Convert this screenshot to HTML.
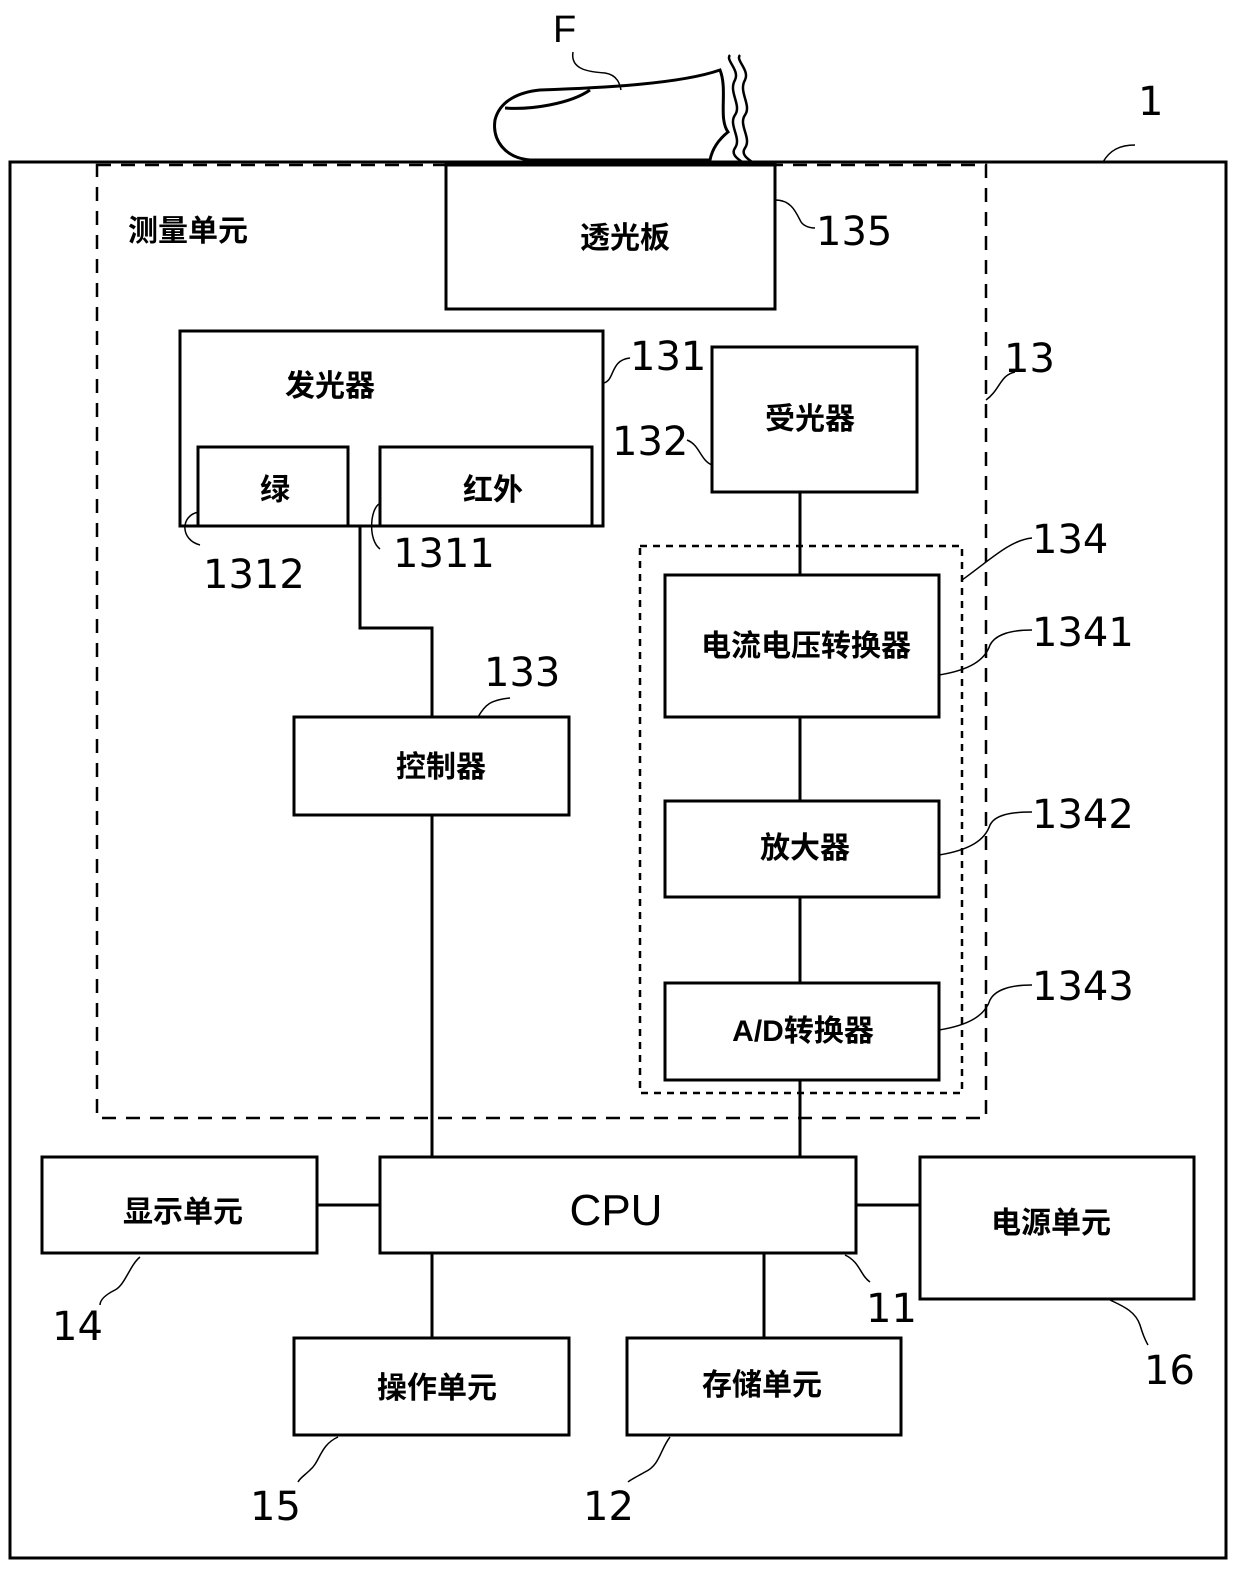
<!DOCTYPE html>
<html><head><meta charset="utf-8"><style>
html,body{margin:0;padding:0;background:#fff}
svg{display:block}
.c{font-family:"Liberation Sans","Noto Sans CJK SC",sans-serif;font-size:30px;font-weight:bold;fill:#000;text-anchor:middle}
.n{font-family:"DejaVu Sans","Liberation Sans",sans-serif;font-size:40px;fill:#000}
</style></head><body>
<svg width="1240" height="1572" viewBox="0 0 1240 1572" xmlns="http://www.w3.org/2000/svg">
<g fill="none" stroke="#000" stroke-width="3">
<rect x="10" y="162" width="1216" height="1396"/>
<rect x="97" y="165" width="889" height="953" stroke-dasharray="14,10" stroke-width="2.5"/>
<rect x="640" y="546" width="322" height="547" stroke-dasharray="7,6" stroke-width="2.5"/>
<rect x="446" y="165" width="329" height="144"/>
<rect x="180" y="331" width="423" height="195"/>
<rect x="198" y="447" width="150" height="79"/>
<rect x="380" y="447" width="212" height="79"/>
<rect x="712" y="347" width="205" height="145"/>
<rect x="665" y="575" width="274" height="142"/>
<rect x="665" y="801" width="274" height="96"/>
<rect x="665" y="983" width="274" height="97"/>
<rect x="294" y="717" width="275" height="98"/>
<rect x="380" y="1157" width="476" height="96"/>
<rect x="42" y="1157" width="275" height="96"/>
<rect x="920" y="1157" width="274" height="142"/>
<rect x="294" y="1338" width="275" height="97"/>
<rect x="627" y="1338" width="274" height="97"/>
<path d="M360 526V628H432V717M432 815V1157M800 492V575M800 717V801M800 897V983M800 1080V1157M317 1205H380M856 1205H920M432 1253V1338M764 1253V1338"/>
<path d="M540 90C600 88 680 84 720 70C728 90 718 118 728 132C718 140 712 150 710 160L530 160C505 158 492 140 495 120C500 100 520 92 540 90Z"/>
<path d="M505 108C530 110 570 104 590 90"/>
<path d="M730 55C725 60 740 70 735 80C728 92 742 105 735 115C728 125 742 138 735 148C730 155 740 160 742 162M740 55C735 60 750 70 745 80C738 92 752 105 745 115C738 125 752 138 745 148C740 155 750 160 752 162" stroke-width="2.5"/>
</g>
<g fill="none" stroke="#000" stroke-width="1.5">
<path d="M573 52C570 70 590 72 605 73C618 75 620 85 621 90"/>
<path d="M1103 162C1110 150 1120 145 1135 145"/>
<path d="M775 200C790 200 795 210 800 220C802 225 808 228 815 228"/>
<path d="M604 383C615 380 610 360 630 358"/>
<path d="M986 400C1000 390 1000 375 1015 372"/>
<path d="M687 440C700 445 700 460 712 465"/>
<path d="M199 512C180 515 180 540 200 545"/>
<path d="M379 504C370 510 368 540 380 549"/>
<path d="M962 580C990 560 1010 540 1032 538"/>
<path d="M939 675C970 670 985 660 990 645C995 635 1010 630 1032 630"/>
<path d="M939 855C970 850 985 840 990 825C995 815 1010 812 1032 812"/>
<path d="M939 1030C970 1025 985 1015 990 1000C995 990 1010 985 1032 985"/>
<path d="M478 717C485 705 490 700 510 698"/>
<path d="M140 1257C130 1265 125 1285 115 1290C105 1295 100 1300 100 1305"/>
<path d="M845 1255C860 1262 860 1275 870 1282"/>
<path d="M1108 1299C1120 1305 1135 1310 1140 1325C1143 1335 1145 1340 1148 1345"/>
<path d="M338 1437C320 1445 320 1462 310 1470C305 1475 300 1478 298 1482"/>
<path d="M670 1437C660 1450 660 1465 645 1472C638 1476 630 1480 628 1482"/>
</g>
<text class="n" x="553" y="42" style="font-size:38px;font-family:'Liberation Sans',sans-serif">F</text>
<text class="n" x="1138" y="115">1</text>
<text class="n" x="816" y="245">135</text>
<text class="n" x="630" y="370">131</text>
<text class="n" x="1004" y="372">13</text>
<text class="n" x="612" y="455">132</text>
<text class="n" x="203" y="588">1312</text>
<text class="n" x="393" y="567">1311</text>
<text class="n" x="1032" y="553">134</text>
<text class="n" x="1032" y="646">1341</text>
<text class="n" x="1032" y="828">1342</text>
<text class="n" x="1032" y="1000">1343</text>
<text class="n" x="484" y="686">133</text>
<text class="n" x="52" y="1340">14</text>
<text class="n" x="866" y="1322">11</text>
<text class="n" x="1144" y="1384">16</text>
<text class="n" x="250" y="1520">15</text>
<text class="n" x="583" y="1520">12</text>
<text class="c" x="188" y="241">测量单元</text>
<text class="c" x="625" y="248">透光板</text>
<text class="c" x="330" y="396">发光器</text>
<text class="c" x="275" y="500">绿</text>
<text class="c" x="493" y="500">红外</text>
<text class="c" x="810" y="429">受光器</text>
<text class="c" x="806" y="656">电流电压转换器</text>
<text class="c" x="805" y="858">放大器</text>
<text class="c" x="803" y="1041">A/D转换器</text>
<text class="c" x="441" y="777">控制器</text>
<text class="c" x="616" y="1225" style="font-size:44px;font-weight:normal">CPU</text>
<text class="c" x="183" y="1222">显示单元</text>
<text class="c" x="1051" y="1233">电源单元</text>
<text class="c" x="437" y="1398">操作单元</text>
<text class="c" x="762" y="1395">存储单元</text>
</svg>
</body></html>
